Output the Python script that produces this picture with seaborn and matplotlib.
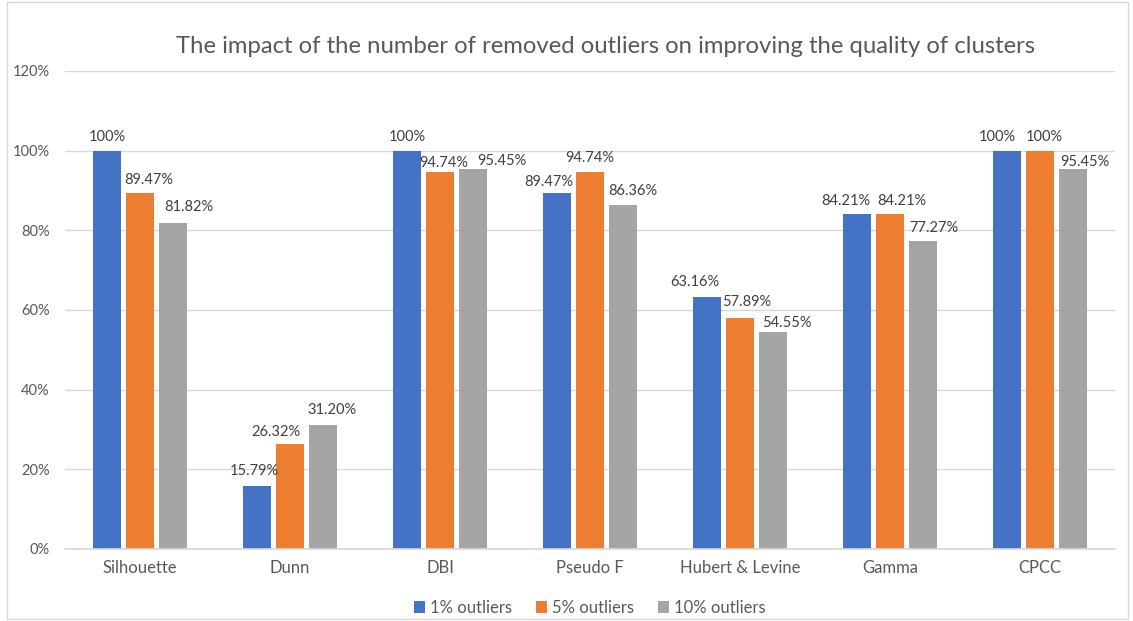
import matplotlib
matplotlib.use("Agg")
import matplotlib.pyplot as plt
import seaborn as sns
import pandas as pd
from matplotlib.patches import Rectangle

categories = ["Silhouette", "Dunn", "DBI", "Pseudo F", "Hubert & Levine", "Gamma", "CPCC"]
series_names = ["1% outliers", "5% outliers", "10% outliers"]
s1 = [100, 15.79, 100, 89.47, 63.16, 84.21, 100]
s5 = [89.47, 26.32, 94.74, 94.74, 57.89, 84.21, 100]
s10 = [81.82, 31.20, 95.45, 86.36, 54.55, 77.27, 95.45]
labels1 = ["100%", "15.79%", "100%", "89.47%", "63.16%", "84.21%", "100%"]
labels5 = ["89.47%", "26.32%", "94.74%", "94.74%", "57.89%", "84.21%", "100%"]
labels10 = ["81.82%", "31.20%", "95.45%", "86.36%", "54.55%", "77.27%", "95.45%"]
colors = ["#4472C4", "#ED7D31", "#A5A5A5"]
yticks = [0, 20, 40, 60, 80, 100, 120]
title = "The impact of the number of removed outliers on improving the quality of clusters"

# data-label nudges (pixels) as placed in the reference: horizontal / height of label centre above bar
nudge_x1 = [0, -3, 0, -8, -12, -11, -10]
nudge_x5 = [9, -14, 4, 0, 7, 12, 4]
nudge_x10 = [16, 9, 29, 10, 14, 11, 12]
nudge_y1 = [14, 15, 14, 11, 15, 13, 14]
nudge_y5 = [13, 12, 9, 14, 16, 13, 14]
nudge_y10 = [16, 15, 8, 14, 9, 13, 7]

sns.set_theme(style="white")
plt.rcParams['font.family'] = ['Lato', 'DejaVu Sans']
txt = "#595959"

rows = []
for name, vals in zip(series_names, [s1, s5, s10]):
    for c, v in zip(categories, vals):
        rows.append({"Metric": c, "Series": name, "Value": v})
df = pd.DataFrame(rows)

fig = plt.figure(figsize=(11.33, 6.21), dpi=100)
ax = fig.add_axes([0.0574, 0.116, 0.9266, 0.7697])
sns.barplot(data=df, x="Metric", y="Value", hue="Series", palette=colors,
            width=0.66, gap=0.16, ax=ax, saturation=1, legend=True, linewidth=0)

for cont, labs, nx, ny in zip(ax.containers, [labels1, labels5, labels10],
                              [nudge_x1, nudge_x5, nudge_x10],
                              [nudge_y1, nudge_y5, nudge_y10]):
    for bar, lab, dx, dy in zip(cont, labs, nx, ny):
        x = bar.get_x() + bar.get_width() / 2
        y = bar.get_height()
        ax.annotate(lab, (x, y), xytext=(dx, dy), textcoords="offset pixels",
                    ha="center", va="center", fontsize=10.5, color="#404040")

ax.set_ylim(0, 120)
ax.set_yticks(yticks)
ax.set_yticklabels([f"{t}%" for t in yticks], fontsize=10.5, color=txt)
ax.tick_params(axis='x', labelsize=12, colors=txt, length=0, pad=8)
ax.tick_params(axis='y', length=0, pad=11)
ax.set_xlabel("")
ax.set_ylabel("")
ax.yaxis.grid(True, color="#D9D9D9", linewidth=1)
ax.set_axisbelow(True)
for s in ["top", "right", "left"]:
    ax.spines[s].set_visible(False)
ax.spines["bottom"].set_color("#D9D9D9")
ax.set_xlim(-0.5, 6.5)

fig.text(0.534, 0.925, title, ha="center", va="center", fontsize=17.2, color=txt)

handles, lbls = ax.get_legend_handles_labels()
ax.legend(handles, lbls, loc="upper center", bbox_to_anchor=(0.5, -0.075),
          ncol=3, frameon=False, fontsize=12, handlelength=0.65, handleheight=0.65,
          handletextpad=0.35, columnspacing=1.4, labelcolor=txt)

fig.patches.append(Rectangle((0.006, 0.003), 0.99, 0.994, transform=fig.transFigure,
                             fill=False, edgecolor="#D9D9D9", linewidth=1))

fig.savefig("out.png", dpi=100, facecolor="white")
